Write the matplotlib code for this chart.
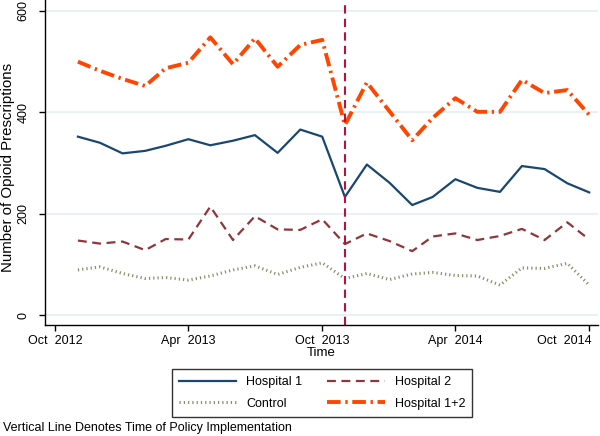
"""Opioid prescriptions per month by hospital, with policy implementation line."""

import matplotlib
matplotlib.use("Agg")
import matplotlib.pyplot as plt
import matplotlib.transforms as mtransforms
import pandas as pd

plt.rcParams["font.family"] = ["Liberation Sans", "DejaVu Sans"]

MONTHS = pd.date_range("2012-11-01", periods=24, freq="MS")

HOSP1 = [352, 340, 319, 324, 334, 347, 335, 344, 355, 320, 366, 352,
         233, 297, 261, 217, 233, 268, 251, 243, 294, 288, 260, 242]
HOSP2 = [147, 141, 145, 128, 150, 149, 214, 148, 195, 169, 168, 189,
         140, 161, 146, 126, 155, 161, 148, 156, 170, 148, 183, 149]
CONTROL = [89, 95, 82, 72, 74, 69, 77, 89, 97, 80, 94, 103,
           72, 82, 70, 81, 84, 78, 77, 59, 93, 92, 102, 59]
HOSP12 = [500, 482, 466, 452, 487, 498, 548, 495, 546, 490, 533, 543,
          375, 459, 402, 345, 389, 428, 401, 401, 464, 438, 444, 395]

POLICY_DATE = pd.Timestamp("2013-11-01")
TICK_DATES = pd.to_datetime(["2012-10-01", "2013-04-01", "2013-10-01",
                             "2014-04-01", "2014-10-01"])
TICK_LABELS = ["Oct  2012", "Apr  2013", "Oct  2013", "Apr  2014", "Oct  2014"]

fig = plt.figure(figsize=(6, 4.36), dpi=100)
ax = fig.add_axes([45 / 600, 1 - 325 / 436, 553 / 600, 325 / 436])

for y in [0, 200, 400, 600]:
    ax.axhline(y, color="#e6eff2", linewidth=1.2, zorder=0)

ax.plot(MONTHS, HOSP1, color="#1a476f", linewidth=1.6, label="Hospital 1")
ax.plot(MONTHS, HOSP2, color="#90353b", linewidth=1.6, linestyle=(0, (4, 2.5)),
        label="Hospital 2")
ax.plot(MONTHS, CONTROL, color="#8c8c6c", linewidth=2.2, linestyle=(0, (0.4, 1.0)),
        label="Control")
ax.plot(MONTHS, HOSP12, color="#ff4500", linewidth=2.8,
        linestyle=(0, (3.5, 1.2, 0.6, 1.2)), label="Hospital 1+2")

ax.axvline(POLICY_DATE, color="#b5123f", linewidth=1.5, linestyle=(0, (4, 2.5)))

ax.set_xlim(pd.Timestamp("2012-09-17"), pd.Timestamp("2014-10-13"))
ax.set_ylim(-19.7, 621.7)
ax.set_xticks(TICK_DATES)
ax.set_xticklabels(TICK_LABELS)
ax.set_yticks([0, 200, 400, 600])
ax.set_yticklabels(["0", "200", "400", "600"], rotation=90, va="center")
ax.tick_params(axis="both", labelsize=9, length=4, width=1, direction="out")
ax.tick_params(axis="x", pad=3)
ax.tick_params(axis="y", pad=7)

# last x label is pulled inward so it stays on the canvas
last = ax.get_xticklabels()[-1]
last.set_transform(last.get_transform() +
                   mtransforms.ScaledTranslation(-25 / 100, 0, fig.dpi_scale_trans))

for side in ["top", "right"]:
    ax.spines[side].set_visible(False)
for side in ["left", "bottom"]:
    ax.spines[side].set_linewidth(1.0)

ax.set_xlabel("Time", fontsize=9.5, labelpad=0)
ax.set_ylabel("Number of Opioid Prescriptions", fontsize=10.8)
ax.yaxis.set_label_coords(-30 / 553, (325 - 167) / 325)

handles, labels = ax.get_legend_handles_labels()
order = [0, 2, 1, 3]
leg = fig.legend([handles[i] for i in order], [labels[i] for i in order],
                 ncol=2, loc="center", bbox_to_anchor=(322 / 600, 1 - 393 / 436),
                 fontsize=9, handlelength=4.6, columnspacing=2.0, handletextpad=0.8,
                 labelspacing=0.75, fancybox=False, edgecolor="black",
                 borderpad=0.55)
leg.get_frame().set_linewidth(1.0)

fig.text(3 / 600, 1 - 428 / 436, "Vertical Line Denotes Time of Policy Implementation",
         fontsize=9, va="center", ha="left")

fig.savefig("out.png", dpi=100)
